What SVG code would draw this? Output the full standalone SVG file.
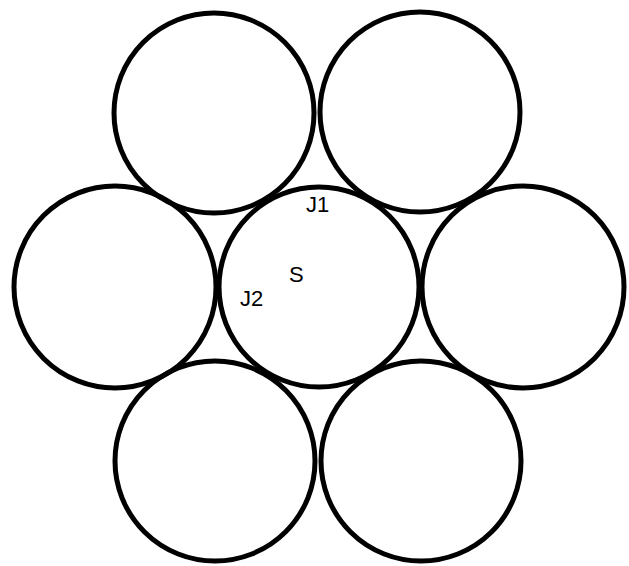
<svg xmlns="http://www.w3.org/2000/svg" width="629" height="566" viewBox="0 0 629 566">
<style>
.c{fill:none;stroke:#000;stroke-width:5}
.t{font-family:"Liberation Sans",Arial,sans-serif;font-size:22px;fill:#000}
</style>
<rect width="629" height="566" fill="#fff"/>
<g id="top-left"><circle class="c" cx="214" cy="113" r="100"/></g>
<g id="top-right"><circle class="c" cx="420" cy="112" r="100"/></g>
<g id="left"><circle class="c" cx="115" cy="287" r="101"/></g>
<g id="center"><circle class="c" cx="319" cy="287" r="100"/>
<text class="t" x="306" y="212">J1</text>
<text class="t" x="289" y="282">S</text>
<text class="t" x="240" y="306">J2</text>
</g>
<g id="right"><circle class="c" cx="523" cy="287" r="101"/></g>
<g id="bottom-left"><circle class="c" cx="215" cy="461" r="100"/></g>
<g id="bottom-right"><circle class="c" cx="421" cy="461" r="100"/></g>
<g id="connectors"></g>
</svg>
